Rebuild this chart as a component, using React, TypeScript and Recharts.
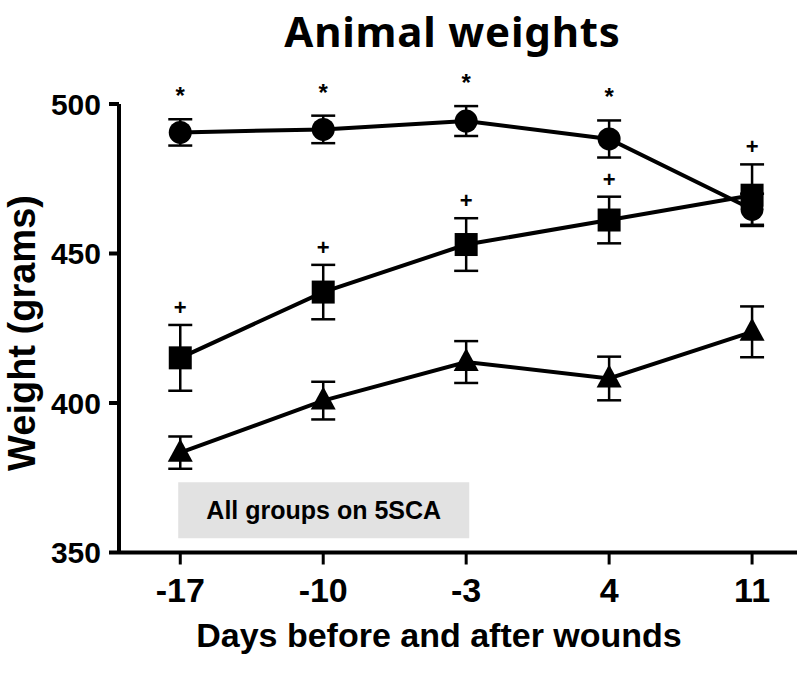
import {
  ComposedChart,
  Line,
  Scatter,
  XAxis,
  YAxis,
  ErrorBar,
  ReferenceArea,
} from "recharts";

const days = [-17, -10, -3, 4, 11];
const dayTicks = [-17, -10, -3, 4, 11];
const weightTicks = [350, 400, 450, 500];

const circleWeights = [490.5, 491.5, 494.3, 488.3, 464.8];
const circleSem = [4.4, 4.6, 5.0, 6.2, 5.2];
const circleMarks = ["*", "*", "*", "*", ""];

const squareWeights = [415.1, 437.1, 453.0, 461.2, 469.5];
const squareSem = [11.0, 9.1, 8.8, 7.8, 10.3];
const squareMarks = ["+", "+", "+", "+", "+"];

const triangleWeights = [383.4, 400.8, 413.7, 408.2, 423.8];
const triangleSem = [5.4, 6.3, 7.0, 7.3, 8.5];

// grey note box, in data units
const boxDays = [-17.1, -2.85];
const boxWeights = [354.8, 373.5];
const boxText = "All groups on 5SCA";

const FONT = "'Liberation Sans', Arial, sans-serif";

const rows = days.map((day, i) => ({
  day,
  circle: circleWeights[i],
  circleErr: circleSem[i],
  square: squareWeights[i],
  squareErr: squareSem[i],
  triangle: triangleWeights[i],
  triangleErr: triangleSem[i],
}));

const circleNotes = days
  .map((day, i) => ({ day, top: circleWeights[i] + circleSem[i], mark: circleMarks[i] }))
  .filter((d) => d.mark);
const squareNotes = days
  .map((day, i) => ({ day, top: squareWeights[i] + squareSem[i], mark: squareMarks[i] }))
  .filter((d) => d.mark);

function SquareDot({ cx, cy }: any) {
  if (cx == null || cy == null) return null;
  return <rect x={cx - 11.5} y={cy - 11.5} width={23} height={23} fill="#000" />;
}

function TriangleDot({ cx, cy }: any) {
  if (cx == null || cy == null) return null;
  return (
    <polygon
      points={`${cx},${cy - 14} ${cx - 12.5},${cy + 9} ${cx + 12.5},${cy + 9}`}
      fill="#000"
    />
  );
}

function NoteMark({ cx, cy, payload }: any) {
  const star = payload.mark === "*";
  return (
    <text
      x={cx}
      y={star ? cy - 15 : cy - 10}
      textAnchor="middle"
      fontFamily={FONT}
      fontWeight="bold"
      fontSize={star ? 24 : 22}
      fill="#000"
    >
      {payload.mark}
    </text>
  );
}

function YTitle() {
  return (
    <text
      transform="translate(35,333) rotate(-90)"
      textAnchor="middle"
      fontFamily={FONT}
      fontWeight="bold"
      fontSize={38}
      fill="#000"
    >
      Weight (grams)
    </text>
  );
}

function XTitle() {
  return (
    <text
      x={439}
      y={647}
      textAnchor="middle"
      fontFamily={FONT}
      fontWeight="bold"
      fontSize={34}
      fill="#000"
    >
      Days before and after wounds
    </text>
  );
}

const lineStyle = { stroke: "#000", strokeWidth: 4 };

export default function App() {
  return (
    <div style={{ position: "absolute", left: 0, top: 0, width: 800, height: 674, background: "#fff" }}>
      <div
        style={{
          position: "absolute",
          left: 0,
          width: 905,
          top: 7,
          textAlign: "center",
          fontFamily: "'Noto Sans', sans-serif",
          fontWeight: 700,
          fontSize: 42,
          letterSpacing: 0.8,
          lineHeight: "48px",
          color: "#000",
        }}
      >
        Animal weights
      </div>
      <ComposedChart
        width={800}
        height={674}
        data={rows}
        margin={{ top: 104, right: 3, bottom: 0, left: 0 }}
      >
        <ReferenceArea
          x1={boxDays[0]}
          x2={boxDays[1]}
          y1={boxWeights[0]}
          y2={boxWeights[1]}
          fill="#e2e2e2"
          fillOpacity={1}
          stroke="none"
          label={{
            value: boxText,
            position: "center",
            fontFamily: FONT,
            fontWeight: "bold",
            fontSize: 25,
            fill: "#000",
          }}
        />
        <XAxis
          dataKey="day"
          type="number"
          domain={[-20, 13.2]}
          ticks={dayTicks}
          height={121.5}
          tickSize={12}
          tickMargin={13}
          axisLine={{ stroke: "#000", strokeWidth: 4 }}
          tickLine={{ stroke: "#000", strokeWidth: 3 }}
          tick={{ fill: "#000", fontFamily: FONT, fontWeight: "bold", fontSize: 34 }}
          label={<XTitle />}
        />
        <YAxis
          type="number"
          domain={[350, 500]}
          ticks={weightTicks}
          width={119}
          tickSize={10}
          tickMargin={8}
          axisLine={{ stroke: "#000", strokeWidth: 4 }}
          tickLine={{ stroke: "#000", strokeWidth: 4 }}
          tick={{ fill: "#000", fontFamily: FONT, fontWeight: "bold", fontSize: 30 }}
          label={<YTitle />}
        />
        <Line
          dataKey="circle"
          {...lineStyle}
          dot={{ r: 11.5, fill: "#000", stroke: "none" }}
          activeDot={false}
          isAnimationActive={false}
        >
          <ErrorBar dataKey="circleErr" direction="y" width={12} stroke="#000" strokeWidth={2.5} />
        </Line>
        <Line
          dataKey="triangle"
          {...lineStyle}
          dot={(p: any) => <TriangleDot key={p.index} {...p} />}
          activeDot={false}
          isAnimationActive={false}
        >
          <ErrorBar dataKey="triangleErr" direction="y" width={12} stroke="#000" strokeWidth={2.5} />
        </Line>
        <Line
          dataKey="square"
          {...lineStyle}
          dot={(p: any) => <SquareDot key={p.index} {...p} />}
          activeDot={false}
          isAnimationActive={false}
        >
          <ErrorBar dataKey="squareErr" direction="y" width={12} stroke="#000" strokeWidth={2.5} />
        </Line>
        <Scatter data={circleNotes} dataKey="top" shape={NoteMark} isAnimationActive={false} />
        <Scatter data={squareNotes} dataKey="top" shape={NoteMark} isAnimationActive={false} />
      </ComposedChart>
    </div>
  );
}
